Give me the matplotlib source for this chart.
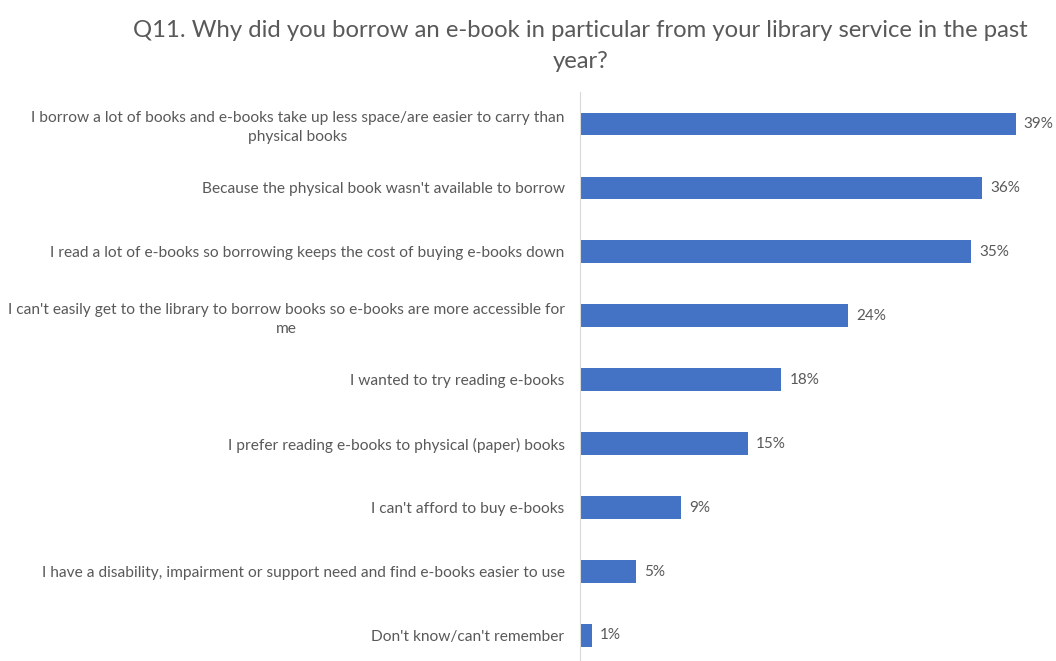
import matplotlib
matplotlib.use("Agg")
import matplotlib.pyplot as plt

# Survey answers, top to bottom as shown
reasons = [
    "I borrow a lot of books and e-books take up less space/are easier to carry than\nphysical books",
    "Because the physical book wasn't available to borrow",
    "I read a lot of e-books so borrowing keeps the cost of buying e-books down",
    "I can't easily get to the library to borrow books so e-books are more accessible for\nme",
    "I wanted to try reading e-books",
    "I prefer reading e-books to physical (paper) books",
    "I can't afford to buy e-books",
    "I have a disability, impairment or support need and find e-books easier to use",
    "Don't know/can't remember",
]
shares = [39, 36, 35, 24, 18, 15, 9, 5, 1]

TITLE = "Q11. Why did you borrow an e-book in particular from your library service in the past\nyear?"
BAR = "#4472C4"
TEXT = "#595959"

plt.rcParams["font.family"] = ["Lato", "DejaVu Sans"]

fig = plt.figure(figsize=(10.56, 6.61), dpi=100)
ax = fig.add_axes([0.5497, -0.0098, 0.45, 0.871])

ypos = list(range(len(reasons)))[::-1]
ax.barh(ypos, shares, height=0.35, color=BAR)
for y, v in zip(ypos, shares):
    ax.annotate(f"{v}%", (v, y), xytext=(6, 0), textcoords="offset points",
                va="center", ha="left", fontsize=11, color=TEXT)

ax.set_xlim(0, 42.6)
ax.set_ylim(-0.5, len(reasons) - 0.5)
ax.set_yticks(ypos)
ax.set_yticklabels(reasons, fontsize=11.2, color=TEXT, linespacing=1.45)
for lbl in ax.get_yticklabels():
    lbl.set_multialignment("center")
ax.tick_params(axis="y", length=0, pad=11.5)
ax.set_xticks([])
for side in ("top", "right", "bottom"):
    ax.spines[side].set_visible(False)
ax.spines["left"].set_color("#D9D9D9")

fig.text(0.5497, 0.97, TITLE, ha="center", va="top", fontsize=17.2,
         color=TEXT, linespacing=1.6)

fig.savefig("out.png", dpi=100)
